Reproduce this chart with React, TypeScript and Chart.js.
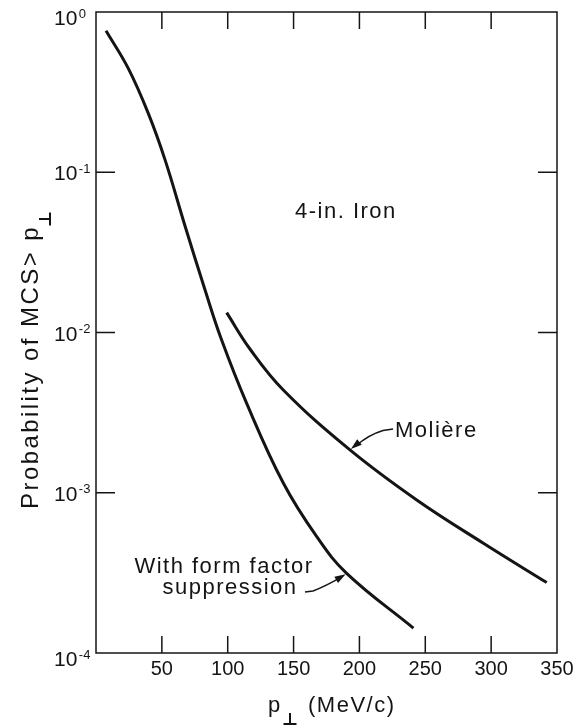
import React, { useEffect, useRef } from 'react';
import { Chart, registerables } from 'chart.js';

Chart.register(...registerables);

const FONT_FAMILY = '"Liberation Sans", Arial, Helvetica, sans-serif';
const INK = '#141414';

// Transverse momentum p⊥ (MeV/c) and probability of multiple Coulomb scattering beyond p⊥
const formFactorP = [7.6, 24.5, 39.7, 52.5, 67.6, 82.8, 94.9, 114.4, 142.2, 167.6, 190.3, 241];
const formFactorProb = [0.764, 0.445, 0.233, 0.119, 0.0462, 0.0184, 0.0092, 0.00361, 0.00115, 0.000532, 0.000314, 0.000143];

const moliereP = [99.2, 116.9, 142.2, 192.8, 243.5, 294.1, 342.2];
const moliereProb = [0.0133, 0.00789, 0.00438, 0.00185, 0.000901, 0.000484, 0.000275];

const xTickValues = [50, 100, 150, 200, 250, 300, 350];
const yTickExponents = [0, -1, -2, -3, -4];

function setFont(ctx: CanvasRenderingContext2D, size: number, spacing = 0) {
  ctx.font = `${size}px ${FONT_FAMILY}`;
  (ctx as any).letterSpacing = `${spacing}px`;
}

function drawArrowHead(ctx: CanvasRenderingContext2D, fromX: number, fromY: number, tipX: number, tipY: number) {
  const ang = Math.atan2(tipY - fromY, tipX - fromX);
  const len = 11;
  const half = 3.6;
  const bx = tipX - Math.cos(ang) * len;
  const by = tipY - Math.sin(ang) * len;
  ctx.beginPath();
  ctx.moveTo(tipX, tipY);
  ctx.lineTo(bx - Math.sin(ang) * half, by + Math.cos(ang) * half);
  ctx.lineTo(bx + Math.sin(ang) * half, by - Math.cos(ang) * half);
  ctx.closePath();
  ctx.fill();
}

function drawPerp(ctx: CanvasRenderingContext2D, cx: number, baseY: number, w: number, h: number) {
  ctx.beginPath();
  ctx.moveTo(cx, baseY - h);
  ctx.lineTo(cx, baseY);
  ctx.moveTo(cx - w / 2, baseY);
  ctx.lineTo(cx + w / 2, baseY);
  ctx.stroke();
}

const paperPlugin = {
  id: 'paper',
  beforeDraw(chart: any) {
    const ctx = chart.ctx as CanvasRenderingContext2D;
    ctx.save();
    ctx.fillStyle = '#ffffff';
    ctx.fillRect(0, 0, chart.width, chart.height);
    ctx.restore();
  },
  afterDatasetsDraw(chart: any) {
    const ctx = chart.ctx as CanvasRenderingContext2D;
    const a = chart.chartArea;
    const xs = chart.scales.x;
    const ys = chart.scales.y;
    ctx.save();
    ctx.strokeStyle = INK;
    ctx.fillStyle = INK;
    ctx.lineWidth = 1.5;

    // frame
    ctx.strokeRect(a.left, a.top, a.right - a.left, a.bottom - a.top);

    // inward tick marks
    const TICK = 17;
    ctx.beginPath();
    xTickValues.forEach((v) => {
      const px = xs.getPixelForValue(v);
      if (px >= a.right - 1) return;
      ctx.moveTo(px, a.bottom);
      ctx.lineTo(px, a.bottom - TICK);
      ctx.moveTo(px, a.top);
      ctx.lineTo(px, a.top + TICK);
    });
    yTickExponents.forEach((e) => {
      const py = ys.getPixelForValue(Math.pow(10, e));
      if (py <= a.top + 1 || py >= a.bottom - 1) return;
      ctx.moveTo(a.left, py);
      ctx.lineTo(a.left + TICK + 2, py);
      ctx.moveTo(a.right, py);
      ctx.lineTo(a.right - TICK - 2, py);
    });
    ctx.stroke();

    // x tick labels
    setFont(ctx, 20);
    ctx.textAlign = 'center';
    ctx.textBaseline = 'alphabetic';
    xTickValues.forEach((v) => {
      ctx.fillText(String(v), xs.getPixelForValue(v), a.bottom + 22);
    });

    // y tick labels: 10 with a superscript exponent
    ctx.textAlign = 'left';
    yTickExponents.forEach((e) => {
      const py = ys.getPixelForValue(Math.pow(10, e));
      const end = e === 0 || e === yTickExponents[yTickExponents.length - 1];
      const base = py + (end ? 13 : 8);
      setFont(ctx, 21);
      ctx.fillText('10', 54, base);
      const w = ctx.measureText('10').width;
      setFont(ctx, 13);
      ctx.fillText(e === 0 ? '0' : `-${-e}`, 54 + w + 1.5, base - 7.5);
    });

    // x axis title: p⊥ (MeV/c)
    setFont(ctx, 22, 1.5);
    ctx.textAlign = 'left';
    ctx.fillText('p', 268, 712);
    ctx.lineWidth = 2;
    drawPerp(ctx, 290, 724, 13, 11);
    ctx.fillText('(MeV/c)', 308, 712);

    // y axis title: Probability of MCS> p⊥
    ctx.save();
    ctx.translate(38, 360);
    ctx.rotate(-Math.PI / 2);
    const yTitle = 'Probability of MCS> p';
    setFont(ctx, 24, 0);
    const rawW = ctx.measureText(yTitle).width;
    const target = 284;
    const spacing = Math.max(0, (target - rawW) / yTitle.length);
    setFont(ctx, 24, spacing);
    const tw = ctx.measureText(yTitle).width;
    const total = tw + 14;
    ctx.textAlign = 'left';
    ctx.fillText(yTitle, -total / 2, 0);
    ctx.lineWidth = 2;
    drawPerp(ctx, -total / 2 + tw + 6, 12, 13, 11);
    ctx.restore();

    // annotations
    setFont(ctx, 22, 1.5);
    ctx.textAlign = 'left';
    ctx.fillText('4-in. Iron', 295, 218);
    ctx.fillText('Molière', 395, 437);
    ctx.textAlign = 'center';
    ctx.fillText('With form factor', 224, 573);
    ctx.fillText('suppression', 230, 594);
    (ctx as any).letterSpacing = '0px';

    // leader arrows
    ctx.lineWidth = 1.4;
    const mTipX = xs.getPixelForValue(moliereP[3]);
    const mTipY = ys.getPixelForValue(moliereProb[3]);
    ctx.beginPath();
    ctx.moveTo(393, 429);
    ctx.lineTo(383, 430.5);
    ctx.quadraticCurveTo(368, 435, mTipX + 6, mTipY - 4);
    ctx.stroke();
    drawArrowHead(ctx, 368, 435, mTipX + 1, mTipY - 1);

    const fTipX = xs.getPixelForValue(formFactorP[10]);
    const fTipY = ys.getPixelForValue(formFactorProb[10]);
    ctx.beginPath();
    ctx.moveTo(305, 592);
    ctx.lineTo(313, 591);
    ctx.quadraticCurveTo(326, 586, fTipX - 6, fTipY + 4);
    ctx.stroke();
    drawArrowHead(ctx, 326, 586, fTipX - 1, fTipY + 1);

    ctx.restore();
  },
};

export default function App() {
  const canvasRef = useRef<HTMLCanvasElement | null>(null);

  useEffect(() => {
    const canvas = canvasRef.current;
    if (!canvas) return;
    const lineStyle = {
      showLine: true,
      borderColor: INK,
      borderWidth: 3,
      pointRadius: 0,
      fill: false,
      tension: 0.4,
    };
    const chart = new Chart(canvas, {
      type: 'scatter',
      data: {
        datasets: [
          {
            label: 'With form factor suppression',
            data: formFactorP.map((p, i) => ({ x: p, y: formFactorProb[i] })),
            ...lineStyle,
          },
          {
            label: 'Molière',
            data: moliereP.map((p, i) => ({ x: p, y: moliereProb[i] })),
            ...lineStyle,
          },
        ],
      },
      options: {
        animation: false,
        responsive: false,
        maintainAspectRatio: false,
        events: [],
        layout: { padding: { left: 96, right: 31, top: 12, bottom: 74 } },
        plugins: {
          legend: { display: false },
          tooltip: { enabled: false },
        },
        scales: {
          x: { type: 'linear', min: 0, max: 350, display: false },
          y: { type: 'logarithmic', min: 1e-4, max: 1, display: false },
        },
      },
      plugins: [paperPlugin],
    });
    return () => chart.destroy();
  }, []);

  return (
    <div style={{ position: 'absolute', left: 0, top: 0, width: 588, height: 727, background: '#fff' }}>
      <canvas ref={canvasRef} width={588} height={727} style={{ display: 'block', width: 588, height: 727 }} />
    </div>
  );
}
